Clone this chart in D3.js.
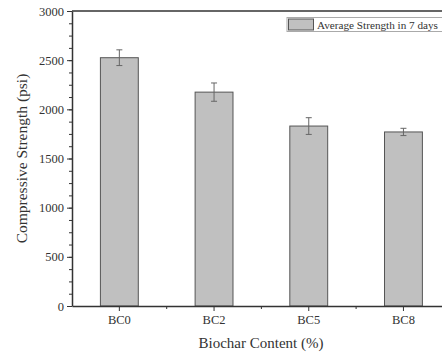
<!DOCTYPE html>
<html>
<head>
<meta charset="utf-8">
<script src="https://cdn.jsdelivr.net/npm/d3@7"></script>
<style>
  body { margin: 0; background: #fff; }
  text { font-family: "Liberation Serif", "Times New Roman", serif; fill: #333; }
</style>
</head>
<body>
<svg width="442" height="353"></svg>
<script>
// data
var categories = ["BC0", "BC2", "BC5", "BC8"];
var strength = [2525, 2175, 1830, 1770];
var errors = [80, 93, 85, 37];
var yTicks = [0, 500, 1000, 1500, 2000, 2500, 3000];

var svg = d3.select("svg"),
    margin = {top: 11, left: 72, bottom: 47},
    step = 94.7,
    height = 353 - margin.top - margin.bottom;

var data = categories.map(function(c, i) { return {cat: c, v: strength[i], e: errors[i]}; });

var x = d3.scaleBand()
  .domain(categories)
  .range([margin.left, margin.left + step * categories.length])
  .paddingInner(0.6)
  .paddingOuter(0.3);

var y = d3.scaleLinear()
  .domain([0, 3000])
  .range([margin.top + height, margin.top]);

var axisColor = "#333";

// bars
svg.append("g").selectAll("rect")
  .data(data)
  .enter().append("rect")
  .attr("x", function(d) { return x(d.cat); })
  .attr("y", function(d) { return y(d.v); })
  .attr("width", x.bandwidth())
  .attr("height", function(d) { return y(0) - y(d.v); })
  .attr("fill", "#c0c0c0")
  .attr("stroke", "#555")
  .attr("stroke-width", 1);

// error bars
var eb = svg.append("g").attr("stroke", "#666").attr("stroke-width", 1);
data.forEach(function(d) {
  var cx = x(d.cat) + x.bandwidth() / 2;
  eb.append("line").attr("x1", cx).attr("x2", cx).attr("y1", y(d.v + d.e)).attr("y2", y(d.v - d.e));
  eb.append("line").attr("x1", cx - 3).attr("x2", cx + 3).attr("y1", y(d.v + d.e)).attr("y2", y(d.v + d.e));
  eb.append("line").attr("x1", cx - 3).attr("x2", cx + 3).attr("y1", y(d.v - d.e)).attr("y2", y(d.v - d.e));
});

// y axis minor ticks
svg.append("g")
  .attr("transform", "translate(" + margin.left + ",0)")
  .call(d3.axisLeft(y).tickValues(d3.range(0, 3001, 125)).tickSize(3).tickFormat(""))
  .call(function(g) { g.select(".domain").remove(); g.selectAll("line").attr("stroke", axisColor); });

// y axis major
var yAxis = svg.append("g")
  .attr("transform", "translate(" + margin.left + ",0)")
  .call(d3.axisLeft(y).tickValues(yTicks).tickFormat(d3.format("d")).tickSize(5).tickSizeOuter(0).tickPadding(3));
yAxis.select(".domain").attr("stroke", axisColor).attr("stroke-width", 1.5);
yAxis.selectAll("line").attr("stroke", axisColor);
yAxis.selectAll("text").style("font-size", "12.5px").style("font-family", "Liberation Serif").attr("fill", "#333");

// x axis
var xAxis = svg.append("g")
  .attr("transform", "translate(0," + y(0) + ")")
  .call(d3.axisBottom(x).tickSize(5).tickSizeOuter(0).tickPadding(4));
xAxis.select(".domain").attr("stroke", axisColor).attr("stroke-width", 1.5);
xAxis.selectAll("line").attr("stroke", axisColor);
xAxis.selectAll("text").style("font-size", "12.5px").style("font-family", "Liberation Serif").attr("fill", "#333");

// x minor ticks between categories
svg.append("g").selectAll("line")
  .data(categories.slice(1))
  .enter().append("line")
  .attr("x1", function(d) { return x(d) + x.bandwidth() / 2 - step / 2; })
  .attr("x2", function(d) { return x(d) + x.bandwidth() / 2 - step / 2; })
  .attr("y1", y(0)).attr("y2", y(0) + 3)
  .attr("stroke", axisColor);

// top frame line
svg.append("line")
  .attr("x1", margin.left).attr("x2", 442)
  .attr("y1", y(3000)).attr("y2", y(3000))
  .attr("stroke", axisColor).attr("stroke-width", 1.5);

// axis titles
svg.append("text")
  .attr("transform", "translate(27," + (y(1500)) + ") rotate(-90)")
  .attr("text-anchor", "middle")
  .style("font-size", "15.5px")
  .text("Compressive Strength (psi)");

svg.append("text")
  .attr("x", 261).attr("y", 348)
  .attr("text-anchor", "middle")
  .style("font-size", "15px")
  .text("Biochar Content (%)");

// legend
var lg = svg.append("g");
lg.append("rect").attr("x", 287).attr("y", 17.5).attr("width", 170).attr("height", 14)
  .attr("fill", "#fff").attr("stroke", "#aaa").attr("stroke-width", 1);
lg.append("rect").attr("x", 288.5).attr("y", 19).attr("width", 25).attr("height", 11)
  .attr("fill", "#c0c0c0").attr("stroke", "#555");
lg.append("text").attr("x", 317).attr("y", 28.5).style("font-size", "11.2px")
  .text("Average Strength in 7 days");
</script>
</body>
</html>
